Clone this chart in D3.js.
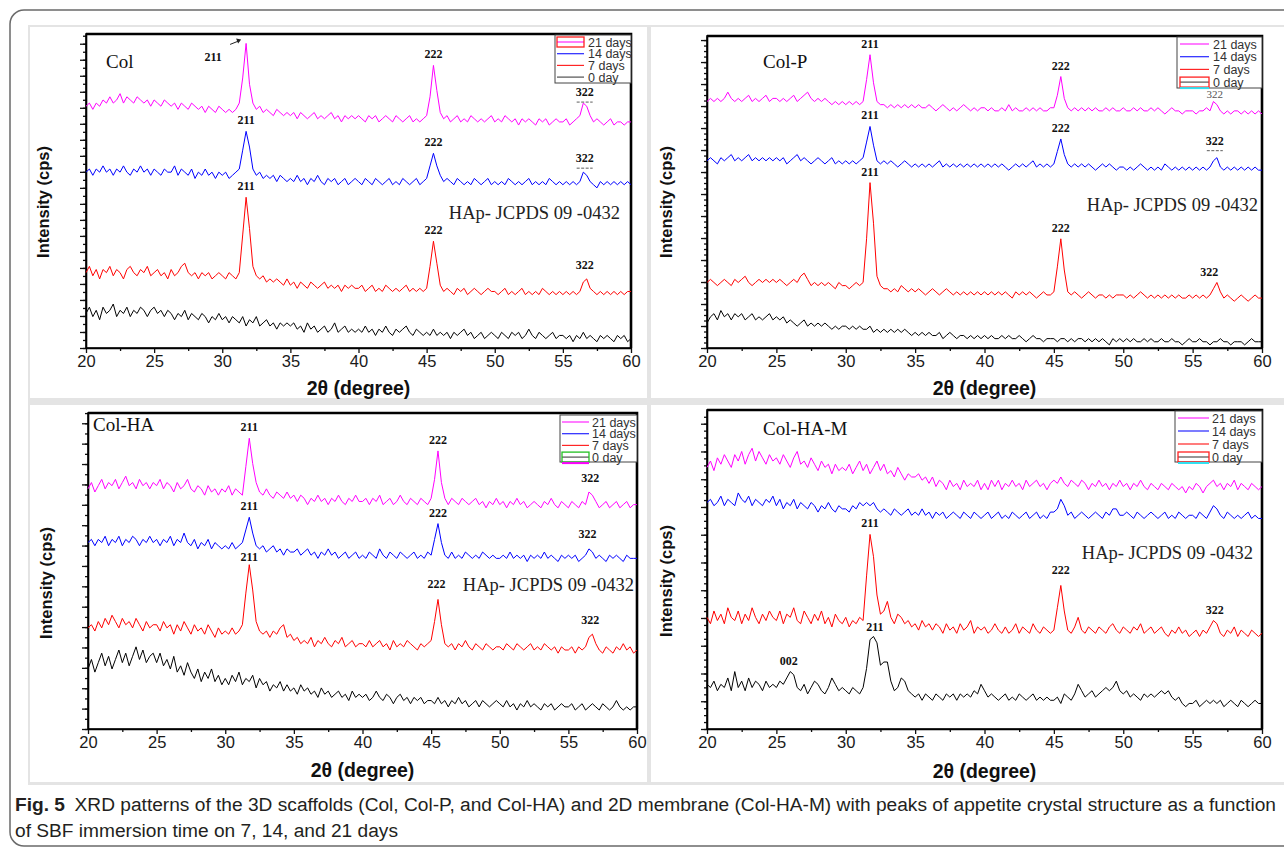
<!DOCTYPE html>
<html>
<head>
<meta charset="utf-8">
<script src="https://cdn.jsdelivr.net/npm/d3@7"></script>
<style>
  body { margin: 0; background: #fff; }
  .tick text { font-family: "Liberation Sans", Arial, sans-serif; font-size: 16.5px; fill: #1a1a1a; }
</style>
</head>
<body>
<svg id="fig" width="1284" height="850"></svg>
<script>
// 2theta grid, 20..60 deg every 0.25 deg
var twoTheta = d3.range(161).map(function(i){ return 20 + i * 0.25; });

var seriesNames = ["21 days", "14 days", "7 days", "0 day"];

// ---- Col (scaled intensity, stacked offsets as plotted) ----
var col21 = [77,78,76,78,77,79,78,80,78,79,81,78,80,79,78,80,79,78,79,77,
  79,78,77,79,78,77,78,76,78,77,76,78,77,76,77,75,77,76,75,77,
  76,75,76,75,76,78,86,97,84,78,76,77,75,76,75,74,76,75,74,75,
  74,75,73,75,74,73,74,75,73,74,73,74,75,73,74,72,74,73,74,73,
  74,73,72,74,73,74,72,73,74,73,72,74,73,72,73,74,72,73,72,73,
  74,80,90,82,75,73,74,72,73,74,72,73,72,74,73,72,73,72,73,74,
  72,73,72,74,73,72,73,71,73,72,73,72,71,73,72,73,71,72,73,72,
  72,73,71,72,73,74,78,77,74,72,73,72,71,72,73,71,72,72,71,72,72];
var col14 = [56,57,55,57,56,58,56,57,55,57,56,58,56,55,57,56,58,56,57,55,
  57,56,55,57,56,56,58,55,57,56,55,57,54,56,55,57,55,56,54,56,
  55,56,54,55,56,57,63,69,64,57,55,56,54,55,54,55,53,55,54,53,
  54,53,55,53,54,52,54,53,55,53,52,54,53,54,52,53,54,52,53,54,
  53,52,54,53,52,54,53,52,53,54,52,53,52,54,53,52,53,54,52,53,
  54,58,62,58,55,53,54,53,52,54,53,52,53,52,54,53,52,53,54,52,
  53,52,53,52,54,53,52,53,52,53,54,52,53,52,53,52,54,53,52,53,
  52,53,52,53,52,53,56,55,53,52,51,53,52,53,52,53,52,53,52,53,52];
var col7 = [24,26,23,25,22,25,24,26,23,25,24,22,25,26,24,23,25,24,26,23,
  24,25,23,24,22,25,23,24,26,27,24,23,24,22,24,23,24,22,23,24,
  23,22,24,23,22,24,36,48,38,26,23,22,23,21,22,21,22,21,20,22,
  20,21,19,21,20,19,21,20,19,20,21,19,20,19,20,18,20,19,20,19,
  19,20,18,19,20,18,19,18,20,19,18,19,18,19,20,18,19,18,19,18,
  19,26,34,27,20,18,19,18,17,19,18,19,17,18,19,18,17,18,19,18,
  18,17,18,19,17,18,17,18,19,17,18,17,18,17,19,18,17,18,17,18,
  17,18,17,18,17,18,21,22,19,18,17,18,17,18,17,18,17,18,17,18,18];
var col0 = [11,13,10,12,9,13,11,12,14,10,12,11,13,10,12,11,13,12,10,12,
  13,11,12,10,12,11,9,11,10,12,9,11,10,9,11,10,8,10,9,11,
  9,10,8,10,9,8,10,7,9,8,10,7,8,9,7,8,6,8,7,8,
  7,8,6,7,5,8,6,7,5,6,7,5,6,8,5,6,7,5,6,5,
  6,5,7,5,6,4,6,5,7,5,4,6,5,6,7,5,4,6,5,4,
  5,4,6,4,5,4,5,3,5,4,5,6,4,5,3,4,5,3,4,5,
  4,3,5,4,3,5,4,5,3,4,6,4,3,5,4,3,4,5,3,4,
  4,3,4,2,4,3,5,3,4,3,2,4,3,4,3,2,4,3,4,2,3];

// ---- Col-P ----
var colP21 = [79,80,79,80,79,80,82,80,79,80,79,80,81,79,80,79,80,81,79,80,
  80,79,80,79,80,81,79,80,81,82,80,79,80,79,80,79,78,79,78,79,
  78,79,78,79,78,79,86,94,85,79,78,78,77,78,77,78,77,78,77,78,
  77,78,77,77,78,77,76,77,78,77,76,77,76,77,78,77,76,77,76,77,
  77,76,77,76,76,77,76,78,76,77,76,76,77,76,77,76,77,76,76,77,
  77,81,87,80,77,76,77,76,77,76,77,76,77,76,76,77,76,77,76,76,
  77,76,76,77,76,77,76,76,77,76,77,76,75,76,77,76,76,75,76,76,
  76,75,76,76,77,76,79,78,76,75,76,75,76,76,75,76,75,76,75,76,75];
var colP14 = [60,61,60,59,61,60,61,62,60,61,60,61,62,60,61,60,61,60,61,60,
  61,60,61,59,60,61,62,60,61,60,59,60,61,60,59,60,61,59,60,59,
  60,59,60,59,60,61,66,71,65,60,59,60,59,60,59,58,59,60,59,58,
  59,58,59,58,59,58,59,60,58,59,58,59,58,59,58,59,58,59,58,59,
  58,59,58,59,58,59,58,57,58,59,58,59,58,59,60,58,59,58,59,58,
  59,63,67,62,59,58,59,58,59,58,59,58,57,58,59,58,59,58,57,58,
  58,57,58,57,58,59,58,57,58,57,58,57,59,58,57,58,57,58,57,58,
  57,58,57,58,57,58,60,61,58,57,58,57,58,57,58,57,58,57,58,57,57];
var colP7 = [21,22,21,20,21,22,21,20,22,21,22,23,21,20,21,22,21,22,21,22,
  21,22,21,20,21,22,21,23,24,22,20,21,20,21,20,21,20,19,21,20,
  20,19,20,21,20,21,35,53,40,23,20,19,19,18,19,18,20,19,18,19,
  18,19,18,17,18,19,18,17,18,19,18,17,18,17,18,17,18,17,18,17,
  18,17,18,17,18,17,18,17,16,18,17,18,17,18,17,16,17,18,17,17,
  18,26,35,25,18,17,18,17,16,17,18,17,16,17,17,16,17,16,17,17,
  17,16,17,16,17,18,17,16,17,16,17,16,17,16,17,16,17,16,16,17,
  16,17,16,17,16,17,19,21,18,16,17,16,15,16,17,16,15,16,17,16,16];
var colP0 = [8,10,11,9,12,10,11,9,11,10,11,9,10,11,9,10,9,10,11,9,
  10,9,10,8,9,8,7,8,9,7,8,7,8,7,8,7,6,7,6,7,
  7,6,7,6,7,6,6,7,5,6,5,6,5,6,5,6,5,6,5,4,
  5,4,5,4,5,4,4,5,3,4,5,4,3,4,4,3,4,3,4,3,
  4,3,4,3,3,4,3,4,3,3,4,3,2,3,4,3,3,2,3,3,
  3,2,3,3,2,3,2,3,3,2,3,2,3,2,3,2,1,3,2,3,
  2,3,2,3,2,2,3,2,3,2,2,3,2,2,3,2,2,1,2,3,
  2,2,3,2,2,1,2,2,3,2,2,1,2,2,2,1,2,3,2,2,2];

// ---- Col-HA ----
var colHA21 = [76,78,75,77,79,76,78,77,79,76,78,80,77,78,76,79,77,78,76,78,
  77,79,76,78,77,75,78,76,77,79,76,75,77,76,74,77,75,76,74,76,
  75,77,74,76,75,74,83,92,84,78,75,74,76,74,73,75,74,73,75,73,
  74,72,74,73,71,73,72,74,72,73,71,73,72,74,72,71,73,72,74,72,
  72,73,71,73,72,74,71,72,73,71,72,74,72,71,73,72,71,73,72,71,
  73,79,88,78,73,71,73,72,71,73,72,71,72,73,71,72,70,72,71,73,
  71,72,70,72,71,73,71,72,70,71,72,71,70,72,71,73,71,70,72,71,
  70,72,71,70,72,71,75,74,72,70,71,72,70,71,72,70,71,72,70,71,71];
var colHA14 = [59,60,58,60,59,61,58,60,59,61,58,60,59,61,60,58,60,59,61,59,
  60,58,60,59,61,58,60,59,62,59,58,60,57,59,58,60,57,59,58,57,
  58,57,59,57,58,59,63,67,62,58,57,58,56,57,58,56,57,55,57,56,
  56,57,55,56,57,55,56,54,56,55,57,55,56,54,55,56,54,55,56,54,
  55,54,56,55,54,57,55,54,56,55,54,56,55,54,55,56,54,55,54,56,
  55,60,65,59,55,54,56,54,55,54,56,55,54,55,54,56,55,54,55,54,
  54,55,54,56,54,55,54,55,53,55,54,55,54,56,54,55,54,53,55,54,
  55,54,55,53,54,55,57,56,54,55,54,53,55,54,55,54,53,55,54,54,54];
var colHA7 = [32,33,31,34,32,35,33,36,34,32,35,33,34,32,35,33,31,34,32,33,
  33,31,34,32,33,30,33,31,34,32,30,33,31,32,30,33,31,29,32,30,
  31,30,32,30,31,33,43,52,44,34,31,30,31,29,31,30,32,33,29,30,
  28,29,27,28,27,29,26,28,27,29,27,26,28,27,29,26,27,28,26,27,
  27,26,28,26,27,28,26,27,25,28,26,27,26,28,27,26,25,27,26,27,
  28,34,41,33,27,26,27,25,27,26,28,26,25,27,26,25,27,26,25,26,
  26,25,27,26,25,27,26,25,26,27,25,26,25,27,26,25,26,24,26,25,
  25,26,24,26,25,26,29,30,27,25,24,26,25,24,26,25,27,25,26,24,25];
var colHA0 = [19,22,18,21,24,20,23,19,22,25,21,24,20,23,26,22,25,21,23,24,
  21,24,20,22,19,23,18,20,17,21,18,16,19,15,18,16,19,15,17,14,
  16,14,17,15,18,14,16,15,17,13,16,14,15,12,14,13,15,12,14,12,
  13,11,14,12,13,11,12,10,13,11,12,10,11,12,10,11,9,12,10,11,
  10,11,9,10,12,10,9,11,10,8,10,11,9,10,8,10,9,10,8,9,
  9,8,10,8,9,7,9,8,10,8,9,7,8,9,7,9,8,7,8,9,
  8,7,9,7,8,6,8,7,9,7,8,7,6,8,7,8,6,7,8,7,
  7,8,6,7,8,6,7,8,7,6,8,7,6,7,9,7,6,7,6,7,7];

// ---- Col-HA-M ----
var colHAM21 = [82,84,81,85,83,86,84,82,86,84,87,83,86,88,84,87,85,83,86,84,
  85,83,86,84,82,85,87,83,84,82,85,83,81,84,82,83,80,83,81,82,
  81,83,80,82,84,81,83,80,82,84,81,83,80,81,79,82,80,78,80,79,
  79,80,78,79,77,79,76,78,77,75,78,76,77,75,78,76,77,76,78,75,
  77,75,78,76,78,75,77,76,78,76,77,75,78,76,77,78,76,77,75,77,
  78,77,79,77,76,78,77,76,78,77,75,77,76,78,76,77,75,77,76,78,
  76,77,75,77,76,78,76,75,77,76,75,77,76,75,77,76,75,76,74,76,
  75,77,76,74,76,77,78,76,77,75,77,76,78,75,77,76,75,77,76,75,76];
var colHAM14 = [71,72,70,71,73,70,72,71,70,74,72,71,73,70,72,71,70,72,71,73,
  70,72,69,71,70,72,69,71,70,69,71,70,68,70,69,71,69,68,70,69,
  69,68,70,69,71,70,71,70,71,69,68,69,68,67,69,68,67,68,69,67,
  68,67,69,67,68,66,68,67,68,66,67,68,67,66,68,67,66,68,67,66,
  67,68,66,67,68,66,67,66,68,67,66,67,68,66,67,68,66,67,66,68,
  68,69,72,70,67,68,66,67,68,67,66,67,68,67,66,68,67,69,69,67,
  67,68,67,66,68,67,66,67,68,67,66,67,68,66,67,66,68,67,66,67,
  67,66,68,67,66,68,70,69,67,66,68,67,66,67,66,67,68,66,67,66,66];
var colHAM7 = [35,33,37,34,36,33,38,35,34,37,33,36,34,38,35,33,36,34,37,35,
  34,37,33,36,35,38,34,33,37,35,33,36,34,37,33,35,32,36,34,33,
  35,32,34,33,35,34,48,61,54,42,36,37,40,35,33,36,35,33,34,32,
  33,31,34,32,33,31,33,32,30,33,31,32,30,33,31,32,34,30,32,31,
  32,30,31,33,31,30,32,30,31,33,30,32,31,30,33,31,30,32,31,30,
  31,38,45,37,31,30,32,35,31,30,32,31,30,32,31,30,32,33,31,30,
  32,31,30,32,31,33,30,31,32,30,31,32,30,29,31,30,32,30,31,29,
  30,31,29,31,30,32,34,33,30,29,31,30,32,29,31,30,29,31,30,29,30];
var colHAM0 = [14,13,15,12,14,13,16,12,18,13,15,12,16,13,15,14,12,15,13,14,
  13,15,14,16,18,17,13,12,14,11,13,15,14,12,11,13,16,14,12,13,
  12,11,13,12,11,13,19,28,29,27,20,21,21,15,12,13,16,15,12,11,
  10,11,9,11,10,9,11,10,9,11,10,11,9,11,10,11,10,12,11,14,
  12,10,11,10,9,10,11,9,10,9,11,10,9,10,11,9,10,9,10,9,
  9,10,8,11,10,9,11,14,12,10,11,12,10,11,12,13,12,13,15,12,
  11,12,10,11,10,9,11,10,11,10,11,12,11,12,10,9,10,8,7,8,
  8,9,7,8,9,8,9,8,9,7,8,9,8,7,9,8,7,8,9,8,8];

var seriesColors = ["#ff00ff", "#0000ff", "#ff0000", "#000000"];

var panels = [
  { title: "Col", series: [col21, col14, col7, col0],
    left: 86, right: 631, top: 34, bottom: 348, yMajor: 5.1, yMinor: 2,
    titleX: 106, titleY: 68, hapX: 620, hapY: 219, ylabX: 43, ylabY: 202, xlabY: 395,
    labels: [[0,"211",31.75,-33,25],[0,"222",45.5],[0,"322",56.6,0,0,"dash"],
             [1,"211",31.75],[1,"222",45.5],[1,"322",56.6,0,-3,"dash"],
             [2,"211",31.75],[2,"222",45.5],[2,"322",56.6,0,-3]],
    arrow: true,
    legend: { x0: 555, y0: 35, x1: 631, y1: 83, row0: 42, step: 11.7, lx0: 557, lx1: 584, tx: 588,
              markRow: 0, markColor: "#ff2020", extra: null } },
  { title: "Col-P", series: [colP21, colP14, colP7, colP0],
    left: 707, right: 1262, top: 36, bottom: 348, yMajor: 7.05, yMinor: 4,
    titleX: 763, titleY: 68, hapX: 1258, hapY: 211, ylabX: 666, ylabY: 202, xlabY: 395,
    labels: [[0,"211",31.75],[0,"222",45.5],[0,"322",56.6,0,3,"light"],
             [1,"211",31.75],[1,"222",45.5],[1,"322",56.6,0,-6,"dash"],
             [2,"211",31.75],[2,"222",45.5],[2,"322",56.2,0,-6]],
    legend: { x0: 1177, y0: 37, x1: 1262, y1: 88, row0: 44, step: 12.7, lx0: 1180, lx1: 1209, tx: 1213,
              markRow: 3, markColor: "#ff2020", extra: "#33e0f0" } },
  { title: "Col-HA", series: [colHA21, colHA14, colHA7, colHA0],
    left: 88, right: 637, top: 413, bottom: 729, yMajor: 6.45, yMinor: 2,
    titleX: 93, titleY: 431, hapX: 634, hapY: 591, ylabX: 46, ylabY: 583, xlabY: 777,
    labels: [[0,"211",31.75],[0,"222",45.5],[0,"322",56.6,0,-3],
             [1,"211",31.75],[1,"222",45.5],[1,"322",56.4,0,-4],
             [2,"211",31.75,0,3],[2,"222",45.4,0,-4],[2,"322",56.6,0,-3]],
    legend: { x0: 560, y0: 415, x1: 637, y1: 462, row0: 422, step: 11.7, lx0: 562, lx1: 589, tx: 592,
              markRow: 3, markColor: "#22c022", extra: "#ff00ff" } },
  { title: "Col-HA-M", series: [colHAM21, colHAM14, colHAM7, colHAM0],
    left: 707, right: 1262, top: 410, bottom: 729, yMajor: 8.7, yMinor: 4,
    titleX: 763, titleY: 435, hapX: 1253, hapY: 559, ylabX: 666, ylabY: 581, xlabY: 778,
    labels: [[2,"211",31.75],[2,"222",45.5,0,-4],[2,"322",56.6],
             [3,"211",32.1,0,2],[3,"002",25.9]],
    legend: { x0: 1175, y0: 411, x1: 1262, y1: 462, row0: 418, step: 13, lx0: 1178, lx1: 1209, tx: 1212,
              markRow: 3, markColor: "#ff2020", extra: "#33e0f0" } }
];

var svg = d3.select("#fig");

// page frame and panel backgrounds
svg.append("rect").attr("x", 10).attr("y", 10).attr("width", 1320).attr("height", 836)
    .attr("rx", 14).attr("fill", "#fff").attr("stroke", "#6a6a6a").attr("stroke-width", 1.5);
svg.append("rect").attr("x", 28).attr("y", 25).attr("width", 1260).attr("height", 760).attr("fill", "#e4e4e4");
[[30, 27, 617, 371], [651, 27, 640, 371], [30, 405, 617, 377], [651, 405, 640, 377]].forEach(function(r){
    svg.append("rect").attr("x", r[0]).attr("y", r[1]).attr("width", r[2]).attr("height", r[3]).attr("fill", "#fff");
});

function peakTop(data, theta) {
    var best = -Infinity;
    twoTheta.forEach(function(t, i){
        if (Math.abs(t - theta) <= 0.4 && data[i] > best) { best = data[i]; }
    });
    return best;
}

panels.forEach(function(p){
    var g = svg.append("g");
    var x = d3.scaleLinear().domain([20, 60]).range([p.left, p.right]);
    var y = d3.scaleLinear().domain([0, 100]).range([p.bottom, p.top]);

    // minor ticks first
    g.append("g").attr("transform", "translate(0," + p.bottom + ")")
        .call(d3.axisBottom(x).tickValues(d3.range(22.5, 60, 5)).tickSize(3).tickSizeOuter(0).tickFormat(""))
        .call(function(a){ a.select(".domain").remove(); });
    var yMinorVals = d3.range(0, 100.01, p.yMajor / p.yMinor);
    g.append("g").attr("transform", "translate(" + p.left + ",0)")
        .call(d3.axisLeft(y).tickValues(yMinorVals).tickSize(3).tickSizeOuter(0).tickFormat(""))
        .call(function(a){ a.select(".domain").remove(); });

    g.append("g").attr("transform", "translate(0," + p.bottom + ")")
        .call(d3.axisBottom(x).tickValues(d3.range(20, 61, 5)).tickSize(5).tickSizeOuter(0).tickPadding(2));
    g.append("g").attr("transform", "translate(" + p.left + ",0)")
        .call(d3.axisLeft(y).tickValues(d3.range(0, 100.01, p.yMajor)).tickSize(6).tickSizeOuter(0).tickFormat(""));
    g.selectAll(".tick line").attr("stroke", "#111").attr("stroke-width", 1.3);
    g.selectAll(".domain").attr("stroke", "#000").attr("stroke-width", 1.6);

    // frame, heavier on top and right
    g.append("rect").attr("x", p.left).attr("y", p.top).attr("width", p.right - p.left).attr("height", p.bottom - p.top)
        .attr("fill", "none").attr("stroke", "#000").attr("stroke-width", 1.6);
    g.append("path").attr("d", "M" + p.left + "," + p.top + "H" + p.right + "V" + p.bottom)
        .attr("fill", "none").attr("stroke", "#000").attr("stroke-width", 2.6);

    // patterns
    var line = d3.line().x(function(d, i){ return x(twoTheta[i]); }).y(function(d){ return y(d); });
    p.series.slice().reverse().forEach(function(s, k){
        var idx = p.series.length - 1 - k;
        g.append("path").datum(s).attr("d", line).attr("fill", "none")
            .attr("stroke", seriesColors[idx]).attr("stroke-width", 1).attr("stroke-linejoin", "round");
    });

    // peak labels
    p.labels.forEach(function(l){
        var top = y(peakTop(p.series[l[0]], l[2]));
        var lx = x(l[2]) + (l[3] || 0), ly = top - 7 + (l[4] || 0);
        var light = l[5] === "light";
        g.append("text").attr("x", lx).attr("y", ly).attr("text-anchor", "middle")
            .style("font-family", "'Liberation Serif', 'Times New Roman', serif")
            .style("font-size", light ? "11px" : "12px")
            .style("font-weight", light ? "normal" : "bold")
            .style("fill", light ? "#555" : "#111").text(l[1]);
        if (l[5] === "dash") {
            g.append("line").attr("x1", lx - 8).attr("x2", lx + 8).attr("y1", ly + 6).attr("y2", ly + 6)
                .attr("stroke", "#333").attr("stroke-width", 0.8).attr("stroke-dasharray", "3,1.5");
        }
    });

    if (p.arrow) {
        var ax = x(31.75), ay = y(peakTop(p.series[0], 31.75));
        g.append("path").attr("d", "M" + (ax - 16) + "," + (ay + 1) + "L" + (ax - 6) + "," + (ay - 3))
            .attr("stroke", "#222").attr("stroke-width", 1);
        g.append("path").attr("d", "M" + (ax - 5) + "," + (ay - 4) + "L" + (ax - 10) + "," + (ay - 5) + "L" + (ax - 8) + "," + (ay) + "Z")
            .attr("fill", "#222");
    }

    // panel title and reference card
    g.append("text").attr("x", p.titleX).attr("y", p.titleY)
        .style("font-family", "'Liberation Serif', 'Times New Roman', serif").style("font-size", "19px")
        .style("fill", "#111").text(p.title);
    g.append("text").attr("x", p.hapX).attr("y", p.hapY).attr("text-anchor", "end")
        .style("font-family", "'Liberation Serif', 'Times New Roman', serif").style("font-size", "18.5px")
        .style("fill", "#222").text("HAp- JCPDS 09 -0432");

    // axis titles
    g.append("text").attr("transform", "translate(" + p.ylabX + "," + p.ylabY + ") rotate(-90)")
        .attr("text-anchor", "middle").attr("dy", "0.35em")
        .style("font-family", "'Liberation Sans', Arial, sans-serif").style("font-size", "16.5px")
        .style("font-weight", "bold").style("fill", "#111").text("Intensity (cps)");
    g.append("text").attr("x", (p.left + p.right) / 2).attr("y", p.xlabY).attr("text-anchor", "middle")
        .style("font-family", "'Liberation Sans', Arial, sans-serif").style("font-size", "19.5px")
        .style("font-weight", "bold").style("fill", "#111").text("2\u03b8 (degree)");

    // legend
    var lg = p.legend;
    g.append("rect").attr("x", lg.x0).attr("y", lg.y0).attr("width", lg.x1 - lg.x0).attr("height", lg.y1 - lg.y0)
        .attr("fill", "#fff").attr("stroke", "#444").attr("stroke-width", 1);
    seriesNames.forEach(function(name, i){
        var cy = lg.row0 + i * lg.step;
        g.append("line").attr("x1", lg.lx0).attr("x2", lg.lx1).attr("y1", cy).attr("y2", cy)
            .attr("stroke", i === 3 ? "#333" : seriesColors[i]).attr("stroke-width", 1.2).attr("opacity", 0.85);
        g.append("text").attr("x", lg.tx).attr("y", cy).attr("dy", "0.36em")
            .style("font-family", "'Liberation Sans', Arial, sans-serif").style("font-size", "12.5px")
            .style("fill", "#333").text(name);
        if (i === lg.markRow) {
            g.append("rect").attr("x", lg.lx0).attr("y", cy - 5).attr("width", lg.lx1 - lg.lx0).attr("height", 10)
                .attr("fill", "none").attr("stroke", lg.markColor).attr("stroke-width", 1.3);
            if (lg.extra) {
                g.append("line").attr("x1", lg.lx0).attr("x2", lg.lx1).attr("y1", cy + 6).attr("y2", cy + 6)
                    .attr("stroke", lg.extra).attr("stroke-width", 2);
            }
        }
    });
});

// caption: condensed look by horizontal scaling to the printed width
var cap = svg.append("g").style("font-family", "'Liberation Sans', Arial, sans-serif")
    .style("font-size", "19px").style("fill", "#231f20");
var line1 = cap.append("text").attr("x", 0).attr("y", 0);
line1.append("tspan").style("font-weight", "bold").text("Fig. 5");
line1.append("tspan").text("\u2002XRD patterns of the 3D scaffolds (Col, Col-P, and Col-HA) and 2D membrane (Col-HA-M) with peaks of appetite crystal structure as a function");
var line2 = cap.append("text").attr("x", 0).attr("y", 0)
    .text("of SBF immersion time on 7, 14, and 21 days");
var sx = 1262 / line1.node().getComputedTextLength();
line1.attr("transform", "translate(15,811) scale(" + sx + ",1)");
line2.attr("transform", "translate(15,837) scale(" + sx + ",1)");
</script>
</body>
</html>
